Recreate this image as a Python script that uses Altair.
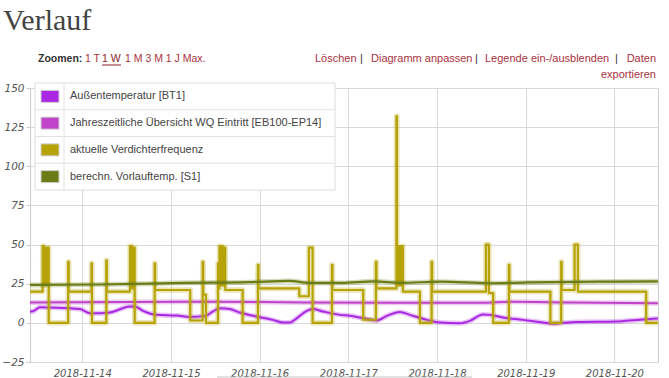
import altair as alt
import pandas as pd

series_names = [
    "Außentemperatur [BT1]",
    "Jahreszeitliche Übersicht WQ Eintritt [EB100-EP14]",
    "aktuelle Verdichterfrequenz",
    "berechn. Vorlauftemp. [S1]",
]
series_colors = ["#aa27e4", "#c044c9", "#b6a307", "#6b7c17"]

aussen_time = [
    "2018-11-13T09:51", "2018-11-13T10:40", "2018-11-13T12:33", "2018-11-13T15:16",
    "2018-11-13T23:23", "2018-11-14T02:05", "2018-11-14T04:47", "2018-11-14T07:30",
    "2018-11-14T12:54", "2018-11-14T14:15", "2018-11-14T16:26", "2018-11-14T20:13",
    "2018-11-15T01:37", "2018-11-15T05:08", "2018-11-15T09:12", "2018-11-15T11:22",
    "2018-11-15T13:16", "2018-11-15T15:58", "2018-11-15T18:40", "2018-11-16T00:05",
    "2018-11-16T03:36", "2018-11-16T06:18", "2018-11-16T08:12", "2018-11-16T10:05",
    "2018-11-16T12:47", "2018-11-16T14:25", "2018-11-16T17:07", "2018-11-16T21:44",
    "2018-11-17T00:26", "2018-11-17T03:57", "2018-11-17T07:44", "2018-11-17T10:26",
    "2018-11-17T13:58", "2018-11-17T16:40", "2018-11-17T21:16", "2018-11-18T00:47",
    "2018-11-18T06:12", "2018-11-18T08:54", "2018-11-18T12:25", "2018-11-18T14:19",
    "2018-11-18T17:50", "2018-11-18T23:14", "2018-11-19T04:39", "2018-11-19T07:22",
    "2018-11-19T10:04", "2018-11-19T13:51", "2018-11-20T00:40", "2018-11-20T06:05",
    "2018-11-20T11:46",
]
aussen_value = [
    7.2, 7.4, 10.0, 9.8,
    8.8, 6.2, 6.2, 6.6,
    10.5, 10.5, 7.7, 5.1,
    4.7, 3.8, 4.3, 7.3,
    9.4, 8.8, 6.6, 3.6,
    1.9, 0.2, 0.2, 3.0,
    7.7, 8.8, 7.3, 5.1,
    4.5, 3.0, 1.5, 4.5,
    7.0, 5.1, 1.9, 0.2,
    -0.3, 1.3, 5.4, 5.1,
    3.4, 1.9, 0.2, -0.6,
    0.0, 0.6, 0.9, 1.9,
    2.8,
]

wq_time = [
    "2018-11-13T09:51", "2018-11-14T12:00", "2018-11-15T12:00", "2018-11-16T12:00",
    "2018-11-17T12:00", "2018-11-18T12:00", "2018-11-18T20:00", "2018-11-19T12:00",
    "2018-11-20T11:46",
]
wq_value = [13.0, 13.3, 13.5, 13.0, 12.9, 12.8, 13.5, 13.0, 12.5]

verd_time = [
    "2018-11-13T09:51", "2018-11-13T13:17", "2018-11-13T13:43", "2018-11-13T14:19",
    "2018-11-13T14:55", "2018-11-13T20:11", "2018-11-13T20:19", "2018-11-14T02:29",
    "2018-11-14T02:37", "2018-11-14T06:30", "2018-11-14T06:38", "2018-11-14T12:54",
    "2018-11-14T13:27", "2018-11-14T13:43", "2018-11-14T14:11", "2018-11-14T19:35",
    "2018-11-14T19:43", "2018-11-15T05:13", "2018-11-15T08:35", "2018-11-15T08:43",
    "2018-11-15T09:28", "2018-11-15T12:43", "2018-11-15T12:51", "2018-11-15T13:07",
    "2018-11-15T13:22", "2018-11-15T13:40", "2018-11-15T13:58", "2018-11-15T14:12",
    "2018-11-15T14:41", "2018-11-15T19:24", "2018-11-15T23:32", "2018-11-15T23:40",
    "2018-11-16T10:43", "2018-11-16T13:20", "2018-11-16T14:20", "2018-11-16T19:34",
    "2018-11-16T19:42", "2018-11-17T04:02", "2018-11-17T07:28", "2018-11-17T07:36",
    "2018-11-17T13:01", "2018-11-17T13:09", "2018-11-17T13:25", "2018-11-17T13:50",
    "2018-11-17T14:12", "2018-11-17T14:46", "2018-11-17T19:22", "2018-11-17T22:32",
    "2018-11-17T22:40", "2018-11-18T13:14", "2018-11-18T14:02", "2018-11-18T15:12",
    "2018-11-18T19:27", "2018-11-18T19:35", "2018-11-19T06:41", "2018-11-19T09:36",
    "2018-11-19T09:44", "2018-11-19T13:14", "2018-11-19T14:07", "2018-11-20T08:36",
    "2018-11-20T11:46",
]
verd_value = [
    20, 49, 24, 48,
    0, 39, 20, 38,
    0, 40, 20, 49,
    22, 48, 0, 38,
    21, 1.5, 39, 18,
    0, 38, 22, 49,
    24, 49, 24, 48,
    21, 0, 37, 22,
    17, 48, 0, 37,
    21, 2, 39, 22,
    132, 24, 49, 24,
    49, 20, 0, 39,
    20, 50, 19, 0,
    37, 20, 0, 39,
    21, 50, 20, 0,
    0,
]

vorlauf_time = [
    "2018-11-13T09:51", "2018-11-14T04:00", "2018-11-14T18:00", "2018-11-15T00:00",
    "2018-11-15T21:00", "2018-11-16T08:00", "2018-11-16T13:30", "2018-11-16T22:00",
    "2018-11-17T07:00", "2018-11-17T14:00", "2018-11-18T01:00", "2018-11-18T14:00",
    "2018-11-19T01:00", "2018-11-19T20:00", "2018-11-20T11:46",
]
vorlauf_value = [24.2, 24.5, 25.0, 25.4, 26.0, 26.8, 25.5, 25.5, 26.5, 25.6, 26.3, 25.3, 25.8, 26.3, 26.5]

y_ticks = [-25, 0, 25, 50, 75, 100, 125, 150]

RED = "#a8323e"
UI_FONT = "Liberation Sans"

x_scale = alt.Scale(domain=[
    alt.DateTime(year=2018, month=11, date=13, hours=9, minutes=51),
    alt.DateTime(year=2018, month=11, date=20, hours=11, minutes=48),
])
y_scale = alt.Scale(domain=[-25, 150], nice=False)

x_axis = alt.Axis(
    format="%Y-%m-%d", tickCount={"interval": "day", "step": 1}, title=None,
    labelFont="DejaVu Sans", labelFontStyle="italic", labelFontSize=10, labelColor="#555",
    gridColor="#d9d9d9", domain=False, ticks=False, labelPadding=6, labelFlush=False,
)
y_axis = alt.Axis(
    values=y_ticks, title=None, labelFont="DejaVu Sans", labelFontStyle="italic",
    labelFontSize=10.5, labelColor="#555", gridColor="#d9d9d9", domain=False,
    tickColor="#cccccc", tickSize=4, labelPadding=2,
)


def line_layers(times, values, color, interp, width, halo):
    df = pd.DataFrame({"t": times, "v": values})
    enc = dict(
        x=alt.X("t:T", scale=x_scale, axis=x_axis),
        y=alt.Y("v:Q", scale=y_scale, axis=y_axis),
    )
    glow = alt.Chart(df).mark_line(
        interpolate=interp, strokeWidth=halo, opacity=0.28, color=color, strokeJoin="round"
    ).encode(**enc)
    main = alt.Chart(df).mark_line(
        interpolate=interp, strokeWidth=width, color=color, strokeJoin="round"
    ).encode(**enc)
    return [glow, main]


layers = []
layers += line_layers(aussen_time, aussen_value, series_colors[0], "monotone", 2, 5)
layers += line_layers(wq_time, wq_value, series_colors[1], "monotone", 2, 5)
layers += line_layers(verd_time, verd_value, series_colors[2], "step-after", 2.2, 5.5)
layers += line_layers(vorlauf_time, vorlauf_value, series_colors[3], "monotone", 2.2, 5)

one = pd.DataFrame({"k": [0]})

# Legend table
LX0, LX1, LY0, ROW_H = 5, 305, -5, 26.75
LY1 = LY0 + ROW_H * len(series_names)
layers.append(
    alt.Chart(one).mark_rect(fill="white", stroke="#dddddd", strokeWidth=1).encode(
        x=alt.value(LX0), x2=alt.value(LX1), y=alt.value(LY0), y2=alt.value(LY1)
    )
)
layers.append(
    alt.Chart(one).mark_rule(color="#e2e2e2", strokeWidth=1).encode(
        x=alt.value(34), y=alt.value(LY0), y2=alt.value(LY1)
    )
)
for i, (name, col) in enumerate(zip(series_names, series_colors)):
    top = LY0 + ROW_H * i
    mid = top + ROW_H / 2
    ldf = pd.DataFrame({"name": [name]})
    if i > 0:
        layers.append(
            alt.Chart(one).mark_rule(color="#e2e2e2", strokeWidth=1).encode(
                x=alt.value(LX0), x2=alt.value(LX1), y=alt.value(top)
            )
        )
    layers.append(
        alt.Chart(ldf).mark_rect(fill=col, stroke="#cfcfcf", strokeWidth=1).encode(
            x=alt.value(11), x2=alt.value(29), y=alt.value(mid - 6), y2=alt.value(mid + 6)
        )
    )
    layers.append(
        alt.Chart(ldf).mark_text(
            align="left", baseline="middle", font=UI_FONT, fontSize=11, color="#444"
        ).encode(x=alt.value(40), y=alt.value(mid), text="name:N")
    )


def txt(s, x, y, color="#333", size=11, align="left", font=UI_FONT, weight="normal"):
    return alt.Chart(pd.DataFrame({"s": [s]})).mark_text(
        align=align, baseline="alphabetic", font=font, fontSize=size, color=color, fontWeight=weight
    ).encode(x=alt.value(x), y=alt.value(y), text="s:N")


layers.append(txt("Verlauf", -27, -58, color="#444", size=30, font="Liberation Serif"))
layers.append(txt("Zoomen:", 8, -26, color="#333", size=10.5, weight="bold"))
layers.append(txt("1 T", 55, -26, color=RED, size=10.5))
layers.append(txt("1 W", 72, -26, color="#8c1e2c", size=10.5))
layers.append(
    alt.Chart(one).mark_rule(color="#8c1e2c", strokeWidth=1).encode(
        x=alt.value(72), x2=alt.value(91), y=alt.value(-23)
    )
)
layers.append(txt("1 M 3 M 1 J Max.", 95, -26, color=RED, size=10.5))
layers.append(txt("Löschen", 285, -26, color=RED))
layers.append(txt("|", 330, -26, color="#333"))
layers.append(txt("Diagramm anpassen", 341, -26, color=RED))
layers.append(txt("|", 445, -26, color="#333"))
layers.append(txt("Legende ein-/ausblenden", 455, -26, color=RED))
layers.append(txt("|", 585, -26, color="#333"))
layers.append(txt("Daten", 626, -26, color=RED, align="right"))
layers.append(txt("exportieren", 626, -10, color=RED, align="right"))

# navigator strip under the axis
layers.append(
    alt.Chart(one).mark_rule(color="#c4c4c4", strokeWidth=1).encode(
        x=alt.value(187), x2=alt.value(442), y=alt.value(289)
    )
)

chart = (
    alt.layer(*layers)
    .properties(
        width=628,
        height=274,
        padding={"left": 30, "top": 88, "right": 11, "bottom": 16},
        autosize=alt.AutoSizeParams(type="none"),
        background="white",
    )
    .configure_view(stroke="#cccccc")
)

chart.save("out.html", embed_options={"renderer": "svg", "actions": False})
